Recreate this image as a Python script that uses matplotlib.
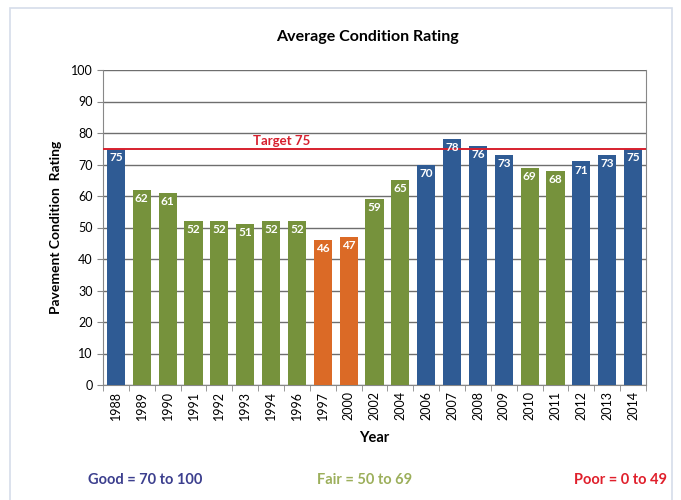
import matplotlib
matplotlib.use("Agg")
import matplotlib.pyplot as plt
from matplotlib.patches import Rectangle
import numpy as np

plt.rcParams['font.family'] = ['Lato', 'DejaVu Sans']

years = ["1988", "1989", "1990", "1991", "1992", "1993", "1994", "1996", "1997",
         "2000", "2002", "2004", "2006", "2007", "2008", "2009", "2010", "2011",
         "2012", "2013", "2014"]
ratings = [75, 62, 61, 52, 52, 51, 52, 52, 46, 47, 59, 65, 70, 78, 76, 73, 69, 68, 71, 73, 75]
target = 75

BLUE = "#2F5B94"
GREEN = "#76923C"
ORANGE = "#DB6A26"

def color_for(v):
    if v >= 70:
        return BLUE
    if v >= 50:
        return GREEN
    return ORANGE

fig = plt.figure(figsize=(6.81, 5.0), dpi=100)
fig.patches.append(Rectangle((10/681, -0.01), 662/681, 1 - 8/500 + 0.01,
                             transform=fig.transFigure, fill=False,
                             edgecolor="#D5DDEA", linewidth=1.2))
ax = fig.add_axes([103/681, 1 - 385/500, (646 - 103)/681, (385 - 70)/500])

x = np.arange(len(years))
cols = [color_for(v) for v in ratings]
ax.bar(x, ratings, width=0.7, color=cols, zorder=3)
for xi, v in zip(x, ratings):
    ax.text(xi, v - 1.0, str(v), ha="center", va="top", color="white",
            fontsize=8.5, fontweight="bold", zorder=5)

ax.axhline(target, color="#D7202E", linewidth=1.4, zorder=4)
ax.text(6.4, target + 0.6, "Target 75", color="#D7202E", fontsize=9.5,
        fontweight="bold", ha="center", va="bottom", zorder=5)

ax.set_ylim(0, 100)
ax.set_xlim(-0.5, len(years) - 0.5)
ax.set_yticks(range(0, 101, 10))
ax.yaxis.grid(True, color="#6E6E6E", linewidth=1.0, zorder=0)
ax.set_axisbelow(True)
ax.set_xticks(x)
ax.set_xticklabels(years, rotation=90, fontsize=9)
ax.set_xticks(np.arange(-0.5, len(years), 1), minor=True)
ax.tick_params(axis="x", which="major", length=0, pad=4)
ax.tick_params(axis="x", which="minor", length=4, color="#888888")
ax.tick_params(axis="y", labelsize=9, length=4, color="#888888")
for s in ["top"]:
    ax.spines[s].set_visible(False)
for s in ["left", "right", "bottom"]:
    ax.spines[s].set_color("#888888")

ax.set_xlabel("Year", fontsize=10.5, fontweight="bold", labelpad=8)
ax.set_ylabel("Pavement Condition  Rating", fontsize=10, fontweight="bold", labelpad=6)
fig.text(367/681, 1 - 37/500, "Average Condition Rating", ha="center", va="center",
         fontsize=11.5, fontweight="bold")

fig.text(145/681, 1 - 480/500, "Good = 70 to 100", ha="center", va="center",
         fontsize=10.5, fontweight="bold", color="#3C3F8E")
fig.text(365/681, 1 - 480/500, "Fair = 50 to 69", ha="center", va="center",
         fontsize=10.5, fontweight="bold", color="#9CAF5B")
fig.text(620/681, 1 - 480/500, "Poor = 0 to 49", ha="center", va="center",
         fontsize=10.5, fontweight="bold", color="#E0202C")

fig.savefig("out.png", dpi=100)
